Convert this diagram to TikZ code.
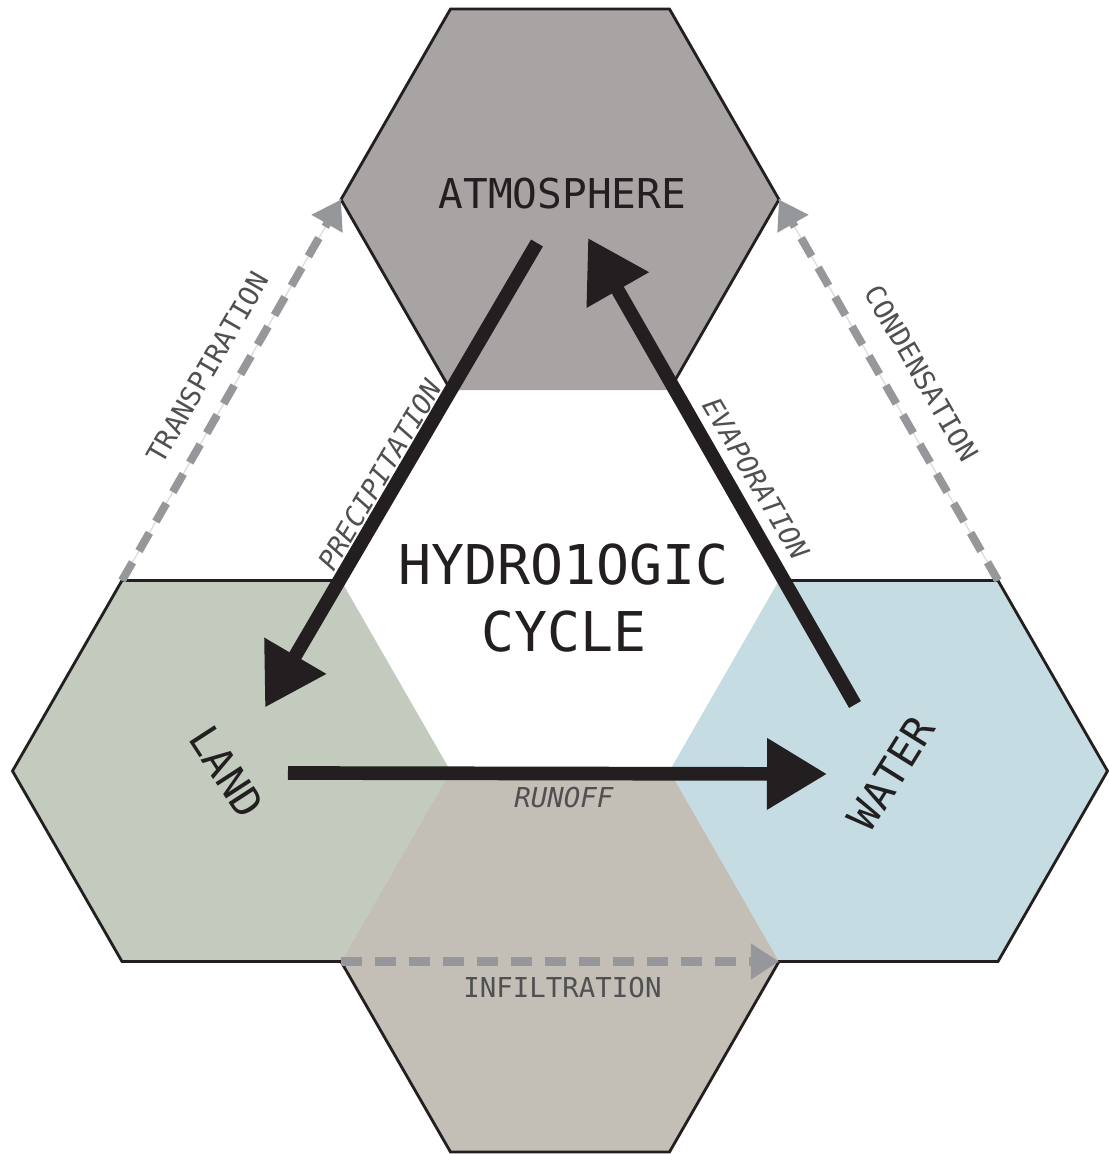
\documentclass[tikz,border=0pt]{standalone}
\usepackage{fontspec}
\newfontfamily\hexfont{DejaVu Sans Mono}
\usetikzlibrary{arrows.meta}

\definecolor{atmgray}{RGB}{168,164,163}
\definecolor{landgreen}{RGB}{195,203,190}
\definecolor{waterblue}{RGB}{197,220,226}
\definecolor{soilbeige}{RGB}{195,191,182}
\definecolor{inkblack}{RGB}{35,31,32}
\definecolor{dashgray}{RGB}{150,151,154}
\definecolor{textgray}{RGB}{80,80,82}

\tikzset{
  hexline/.style={draw=inkblack,line width=0.8pt,line join=miter},
  bigflow/.style={draw=inkblack,line width=3.9pt,-{Triangle[length=6mm,width=6.8mm]}},
  smallflow/.style={draw=dashgray,line width=2.3pt,dash pattern=on 2.1mm off 1.3mm,
    -{Triangle[length=2.8mm,width=3.4mm]}},
  faintline/.style={draw=gray!25,line width=0.4pt},
  biglabel/.style={font=\hexfont\fontsize{11.7}{14}\selectfont,text=inkblack,inner sep=0pt},
  titlelabel/.style={font=\hexfont\fontsize{15.6}{19.06}\selectfont,text=inkblack,inner sep=0pt},
  flowlabel/.style={font=\hexfont\fontsize{7.8}{9}\selectfont,text=textgray,inner sep=0pt},
  flowlabelit/.style={font=\hexfont\itshape\fontsize{7.8}{9}\selectfont,text=textgray,inner sep=0pt}
}

\begin{document}
\begin{tikzpicture}[x=0.1cm,y=0.1cm]
  \fill[white] (-56,-57.35) rectangle (54.9,58.05);
  \useasboundingbox (-56,-57.35) rectangle (54.9,58.05);

  %% hexagons, side 21.9
  \fill[atmgray] (-10.95,19.05) -- (-21.9,38.1) -- (-10.95,57.15) -- (10.95,57.15) -- (21.9,38.1) -- (10.95,19.05) -- cycle;
  \fill[landgreen] (-21.9,0) -- (-43.8,0) -- (-54.75,-19.05) -- (-43.8,-38.1) -- (-21.9,-38.1) -- (-10.95,-19.05) -- cycle;
  \fill[waterblue] (21.9,0) -- (43.8,0) -- (54.75,-19.05) -- (43.8,-38.1) -- (21.9,-38.1) -- (10.95,-19.05) -- cycle;
  \fill[soilbeige] (-10.95,-19.05) -- (10.95,-19.05) -- (21.9,-38.1) -- (10.95,-57.15) -- (-10.95,-57.15) -- (-21.9,-38.1) -- cycle;

  \draw[hexline] (-10.95,19.05) -- (-21.9,38.1) -- (-10.95,57.15) -- (10.95,57.15) -- (21.9,38.1) -- (10.95,19.05);
  \draw[hexline] (-21.9,0) -- (-43.8,0) -- (-54.75,-19.05) -- (-43.8,-38.1) -- (-21.9,-38.1) -- (-10.95,-57.15)
    -- (10.95,-57.15) -- (21.9,-38.1) -- (43.8,-38.1) -- (54.75,-19.05) -- (43.8,0) -- (21.9,0);

  \coordinate (atmL) at (-21.9,38.1);
  \coordinate (atmR) at (21.9,38.1);
  \coordinate (landTL) at (-43.8,0);
  \coordinate (waterTR) at (43.8,0);
  \coordinate (soilL) at (-21.9,-38.1);
  \coordinate (soilR) at (21.9,-38.1);
  \coordinate (precipS) at (-2.3,33.75);
  \coordinate (precipE) at (-29.5,-12.7);
  \coordinate (evapS) at (29.5,-12.4);
  \coordinate (evapE) at (2.8,34.25);
  \coordinate (runoffS) at (-27.2,-19.25);
  \coordinate (runoffE) at (26.7,-19.35);

  %% dashed flows
  \draw[faintline] (landTL) -- (atmL);
  \draw[faintline] (waterTR) -- (atmR);
  \draw[smallflow] (landTL) -- (atmL);
  \draw[smallflow] (waterTR) -- (atmR);
  \draw[smallflow] (soilL) -- (soilR);

  %% main flows
  \draw[bigflow] (precipS) -- (precipE);
  \draw[bigflow] (evapS) -- (evapE);
  \draw[bigflow] (runoffS) -- (runoffE);

  \node (atm) at (0.25,37.25) [biglabel,anchor=base] {ATMOSPHERE};
  \node (land) at (-33.3,-19.15) [biglabel,rotate=-57] {LAND};
  \node (water) at (33.1,-19.25) [biglabel,rotate=58] {WATER};
  \node (title) at (0.4,-1.8) [titlelabel,align=center] {HYDRO1OGIC\\CYCLE};

  \node (precip) at (-18.05,10.55) [flowlabelit,rotate=59.5] {PRECIPITATION};
  \node (evap) at (19.6,10.2) [flowlabelit,rotate=-59.5] {EVAPORATION};
  \node (runoff) at (0.4,-21.75) [flowlabelit] {RUNOFF};
  \node (transp) at (-35.25,21.3) [flowlabel,rotate=60] {TRANSPIRATION};
  \node (cond) at (36.15,20.7) [flowlabel,rotate=-60] {CONDENSATION};
  \node (infil) at (0.25,-40.7) [flowlabel] {INFILTRATION};
\end{tikzpicture}
\end{document}
